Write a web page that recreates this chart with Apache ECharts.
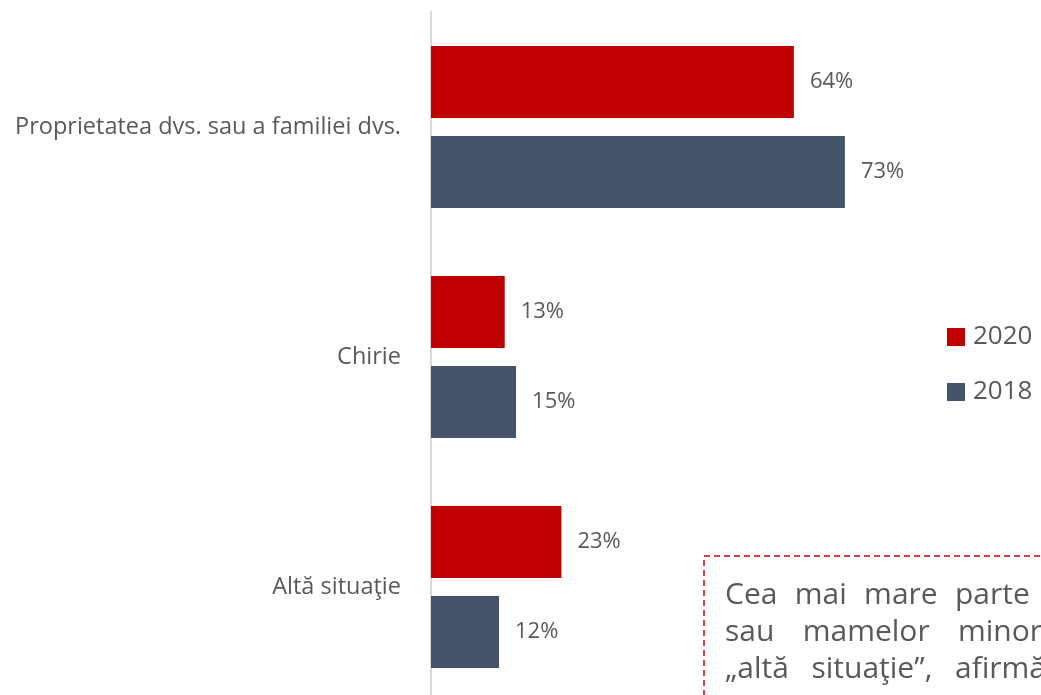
<!DOCTYPE html>
<html>
<head>
<meta charset="utf-8">
<script src="https://cdn.jsdelivr.net/npm/echarts@6/dist/echarts.min.js"></script>
<style>
  html, body { margin: 0; padding: 0; background: #fff; }
  #chart { width: 1041px; height: 695px; }
</style>
</head>
<body>
<div id="chart"></div>
<script>
var categories = ['Proprietatea dvs. sau a familiei dvs.', 'Chirie', 'Altă situaţie'];
var values2020 = [64, 13, 23];
var values2018 = [73, 15, 12];
// note box text (cut off by the right edge in the original)
var noteLines = [
  ['Cea', 'mai', 'mare', 'parte'],
  ['sau', 'mamelor', 'minore'],
  ['„altă', 'situaţie”,', 'afirmă']
];

(function(){
  var myChart = echarts.init(document.getElementById('chart'));
  var grey = '#595959';
  var font = '"Open Sans", "Noto Sans", sans-serif';
  var noteSize = 30;

  // fake justified text: spread words so the last one starts where it does in the picture
  var lastWordX = [955, 958, 955];
  var ctx = document.createElement('canvas').getContext('2d');
  ctx.font = noteSize + 'px ' + font;
  var noteText = [];
  noteLines.forEach(function (words, i) {
    var widths = words.map(function (w) { return ctx.measureText(w).width; });
    var used = 0;
    for (var k = 0; k < words.length - 1; k++) used += widths[k];
    var gap = (lastWordX[i] - 725 - used) / (words.length - 1);
    var x = 725;
    words.forEach(function (w, j) {
      noteText.push({
        type: 'text',
        x: x,
        y: 595 + i * 37,
        style: { text: w, fontSize: noteSize, fill: grey, fontFamily: font, verticalAlign: 'middle' }
      });
      x += widths[j] + gap;
    });
  });

  var option = {
    animation: false,
    textStyle: { fontFamily: font },
    grid: { left: 431, right: 43, top: 12, height: 690, outerBoundsMode: 'none' },
    legend: {
      orient: 'vertical',
      left: 947,
      top: 324,
      padding: 0,
      icon: 'rect',
      itemWidth: 18,
      itemHeight: 18,
      itemGap: 29,
      textStyle: { fontSize: 26, lineHeight: 26, color: grey, fontFamily: font, padding: [0, 0, 0, 3] },
      data: ['2020', '2018']
    },
    xAxis: {
      type: 'value',
      min: 0,
      max: 100,
      show: false
    },
    yAxis: {
      type: 'category',
      inverse: true,
      data: categories,
      axisLine: { lineStyle: { color: '#d9d9d9', width: 2 } },
      axisTick: { show: false },
      axisLabel: { fontSize: 23.5, color: grey, margin: 30, fontFamily: font }
    },
    series: [
      {
        name: '2020',
        type: 'bar',
        data: values2020,
        barGap: '25%',
        barCategoryGap: '29.6%',
        itemStyle: { color: '#C00000' },
        label: { show: true, position: 'right', distance: 16, formatter: '{c}%', fontSize: 22, color: grey, fontFamily: font }
      },
      {
        name: '2018',
        type: 'bar',
        data: values2018,
        barGap: '25%',
        barCategoryGap: '29.6%',
        itemStyle: { color: '#44546A' },
        label: { show: true, position: 'right', distance: 16, formatter: '{c}%', fontSize: 22, color: grey, fontFamily: font }
      }
    ],
    graphic: [
      {
        type: 'rect',
        x: 704,
        y: 556,
        shape: { width: 420, height: 220 },
        style: { fill: 'none', stroke: '#D00000', lineWidth: 1.5, lineDash: [6, 4] }
      }
    ].concat(noteText)
  };
  myChart.setOption(option);
})();
</script>
</body>
</html>
